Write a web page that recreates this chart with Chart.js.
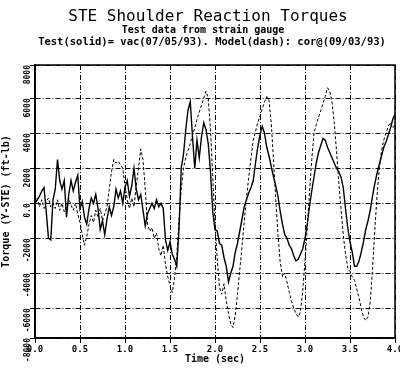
<!DOCTYPE html>
<html>
<head>
<meta charset="utf-8">
<script src="https://cdn.jsdelivr.net/npm/chart.js@4.4.1/dist/chart.umd.min.js"></script>
<style>
  html, body { margin: 0; padding: 0; background: #fff; }
  #wrap { width: 400px; height: 370px; }
</style>
</head>
<body>
<div id="wrap"><canvas id="torqueChart"></canvas></div>
<script>
// Datos (paso de 0.025 s)
const timeStep = 0.025;
const testSolid = [
  0, 200, 400, 700, 900, -500, -2000, -2100, 200, 800,
  2500, 1300, 800, 1300, -800, 500, 1300, 700, 1200, 1600,
  -300, 100, -800, -1200, -300, 300, 0, 500, -300, -1500,
  -1000, -1800, -900, -200, -700, -200, 800, 300, 700, 0,
  900, 1300, 400, 1000, 2000, 800, 200, 500, -400, -1300,
  -600, -300, 0, -300, 200, -200, 0, -300, -2100, -2700,
  -2200, -2900, -3200, -3600, -1500, 2000, 2800, 4200, 5300, 5800,
  3800, 2000, 3600, 2600, 3800, 4600, 4200, 3400, 1800, -500,
  -1500, -1600, -2300, -2400, -3100, -3600, -4500, -4000, -3600, -2800,
  -2300, -1600, -900, -200, 200, 600, 900, 1300, 2300, 3200,
  3900, 4400, 4000, 3200, 2700, 2100, 1500, 1000, 400, -500,
  -1200, -1800, -2000, -2400, -2600, -3000, -3300, -3200, -2900, -2600,
  -2000, -1200, -200, 700, 1500, 2300, 2900, 3300, 3700, 3600,
  3200, 2900, 2600, 2300, 2000, 1800, 1500, 900, -300, -1400,
  -2200, -2800, -3600, -3600, -3300, -2800, -2200, -1500, -1000, -400,
  400, 1100, 1700, 2200, 2700, 3200, 3500, 3900, 4300, 4800,
  5100
];
const modelDash = [
  0, 300, -200, 200, -300, 100, 300, -200, 0, -300,
  200, -400, 0, -500, -200, 300, -100, -400, 0, -600,
  -1100, -1800, -2400, -1900, -1200, -700, -1100, -400, -800, -300,
  -1000, -600, -200, 800, 1800, 2500, 2300, 2400, 2200, 2000,
  1000, 200, -300, 300, -200, 1000, 2000, 3100, 2500, 800,
  -1200, -1600, -1400, -2000, -1700, -2600, -3000, -2400, -3500, -4200,
  -4700, -5100, -4300, -3000, -1000, 800, 2000, 2600, 3000, 3400,
  3900, 4300, 4800, 5200, 5600, 6000, 6400, 6000, 4200, 1500,
  -1200, -3200, -4800, -5200, -4600, -5600, -6300, -6900, -7100, -6400,
  -5200, -3800, -2500, -1000, 300, 1500, 2600, 3600, 4100, 4600,
  5000, 5400, 5800, 6100, 5900, 4600, 2500, 200, -1800, -3400,
  -4200, -4000, -4500, -5100, -5600, -6000, -6300, -6500, -6200, -5000,
  -3300, -1400, 600, 2500, 4000, 4500, 4900, 5300, 5700, 6100,
  6600, 6400, 5800, 4600, 3000, 1200, -300, -1800, -2900, -3700,
  -3900, -4200, -4400, -4900, -5400, -6000, -6500, -6700, -6500, -5600,
  -3800, -1600, 400, 2000, 3000, 3600, 4000, 4400, 4600, 4300,
  4500
];
const xTicks = ['0.0', '0.5', '1.0', '1.5', '2.0', '2.5', '3.0', '3.5', '4.0'];
const yTickValues = [-7700, -6000, -4000, -2000, 0, 2000, 4000, 6000, 7900];
const yTickLabels = ['-8000', '-6000', '-4000', '-2000', '0.0', '2000', '4000', '6000', '8000'];
const headerLines = [
  'STE Shoulder Reaction Torques',
  'Test data from strain gauge',
  'Test(solid)= vac(07/05/93). Model(dash): cor@(09/03/93)'
];

const toPoints = arr => arr.map((v, i) => ({ x: +(i * timeStep).toFixed(3), y: v }));

const mono = '"DejaVu Sans Mono", monospace';

// titulos y marco del grafico
const header = {
  id: 'header',
  afterDraw(chart) {
    const c = chart.ctx;
    const a = chart.chartArea;
    c.save();
    c.fillStyle = '#000';
    c.textAlign = 'center';
    c.textBaseline = 'middle';
    c.font = '16px ' + mono;
    c.fillText(headerLines[0], 208, 17);
    c.font = 'bold 10px ' + mono;
    c.fillText(headerLines[1], 203, 30);
    c.font = 'bold 10.5px ' + mono;
    c.fillText(headerLines[2], 212, 42);
    c.strokeStyle = '#000';
    c.lineWidth = 1.5;
    c.strokeRect(a.left, a.top, a.right - a.left, a.bottom - a.top);
    c.restore();
  }
};

const ctx = document.getElementById('torqueChart');
new Chart(ctx, {
  type: 'line',
  data: {
    datasets: [{
      label: 'Test (solid)',
      data: toPoints(testSolid),
      borderColor: '#000',
      borderWidth: 1.4,
      pointRadius: 0,
      tension: 0
    }, {
      label: 'Model (dash)',
      data: toPoints(modelDash),
      borderColor: '#000',
      borderWidth: 1,
      borderDash: [3, 2],
      pointRadius: 0,
      tension: 0
    }]
  },
  options: {
    responsive: true,
    maintainAspectRatio: false,
    animation: false,
    layout: { padding: { top: 65, right: 5, left: 0, bottom: 5 } },
    plugins: {
      legend: { display: false },
      tooltip: { enabled: false },
      title: { display: false }
    },
    scales: {
      x: {
        type: 'linear',
        min: 0,
        max: 4,
        border: { color: '#000', width: 1.5, dash: [5, 2, 1, 2] },
        grid: { color: '#000', lineWidth: 1, tickLength: 5, tickColor: '#000' },
        afterFit: scale => { scale.height = 27; scale.paddingLeft = 0; scale.paddingRight = 0; },
        ticks: {
          stepSize: 0.5,
          color: '#000',
          padding: 1,
          font: { family: mono, size: 9, weight: 'bold' },
          maxRotation: 0,
          callback: (v, i) => xTicks[i]
        },
        title: {
          display: true,
          text: 'Time (sec)',
          color: '#000',
          font: { family: mono, size: 10, weight: 'bold' },
          padding: { top: 0, bottom: 0 }
        }
      },
      y: {
        min: -7700,
        max: 7900,
        border: { color: '#000', width: 1.5, dash: [5, 2, 1, 2] },
        grid: { color: '#000', lineWidth: 1, tickLength: 5, tickColor: '#000' },
        afterBuildTicks: scale => { scale.ticks = yTickValues.map(v => ({ value: v })); },
        afterFit: scale => { scale.width = 35; scale.paddingTop = 0; scale.paddingBottom = 0; },
        ticks: {
          color: '#000',
          padding: 2,
          minRotation: 90,
          maxRotation: 90,
          font: { family: mono, size: 8, weight: 'bold' },
          callback: (v, i) => yTickLabels[i]
        },
        title: {
          display: true,
          text: 'Torque (Y-STE) (ft-lb)',
          color: '#000',
          font: { family: mono, size: 10, weight: 'bold' },
          padding: { top: 0, bottom: 0 }
        }
      }
    }
  },
  plugins: [header]
});
</script>
</body>
</html>
